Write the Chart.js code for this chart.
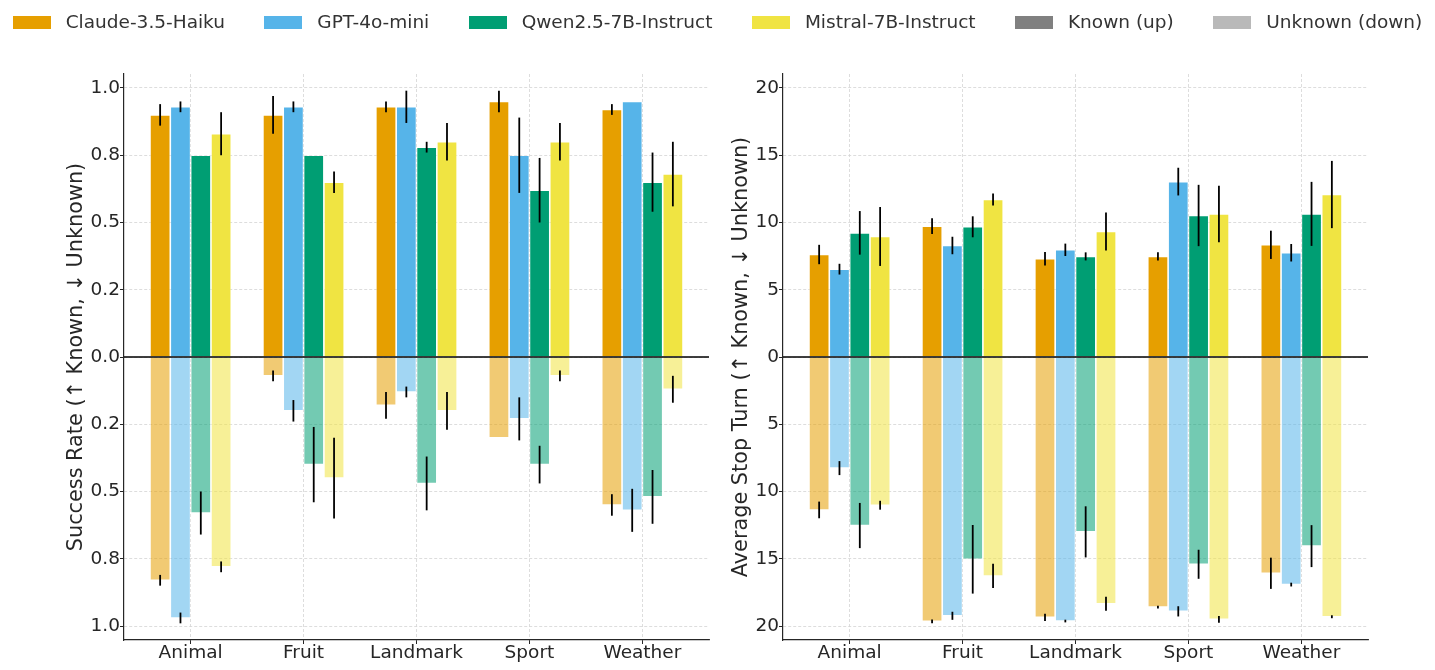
<!DOCTYPE html>
<html><head><meta charset="utf-8">
<script src="https://cdn.jsdelivr.net/npm/chart.js@4.4.1/dist/chart.umd.min.js"></script>
<style>
html,body{margin:0;padding:0;background:#fff;width:1435px;height:670px;overflow:hidden;font-family:"DejaVu Sans",sans-serif;}
#c1{position:absolute;left:0;top:0;}
#c2{position:absolute;left:717px;top:0;}
#legend{position:absolute;top:0;left:0;width:1435px;height:45px;display:flex;justify-content:center;align-items:center;z-index:2;}
.item{display:flex;align-items:center;margin:0 19.7px;}
.box{width:38px;height:13px;margin-right:15px;}
.lbl{font-size:18.5px;color:#333;white-space:nowrap;line-height:1;}
</style>
</head><body>
<canvas id="c1" width="717" height="670"></canvas>
<canvas id="c2" width="718" height="670"></canvas>
<div id="legend"></div>
<script>
// ---- data ----
const categories = ['Animal','Fruit','Landmark','Sport','Weather'];
const models = ['Claude-3.5-Haiku','GPT-4o-mini','Qwen2.5-7B-Instruct','Mistral-7B-Instruct'];
const modelColors = ['230,159,0','86,180,233','0,158,115','240,228,66'];

// Success rate, known (up)
const successKnownClaude  = [0.90, 0.90, 0.93, 0.95, 0.92];
const successKnownGPT     = [0.93, 0.93, 0.93, 0.75, 0.95];
const successKnownQwen    = [0.75, 0.75, 0.78, 0.62, 0.65];
const successKnownMistral = [0.83, 0.65, 0.80, 0.80, 0.68];
const successKnownErrClaude  = [0.04, 0.07, 0.02, 0.04, 0.02];
const successKnownErrGPT     = [0.02, 0.02, 0.06, 0.14, 0.00];
const successKnownErrQwen    = [0.00, 0.00, 0.02, 0.12, 0.11];
const successKnownErrMistral = [0.08, 0.04, 0.07, 0.07, 0.12];
// Success rate, unknown (down)
const successUnknownClaude  = [0.83, 0.07, 0.18, 0.30, 0.55];
const successUnknownGPT     = [0.97, 0.20, 0.13, 0.23, 0.57];
const successUnknownQwen    = [0.58, 0.40, 0.47, 0.40, 0.52];
const successUnknownMistral = [0.78, 0.45, 0.20, 0.07, 0.12];
const successUnknownErrClaude  = [0.02, 0.02, 0.05, 0.00, 0.04];
const successUnknownErrGPT     = [0.02, 0.04, 0.02, 0.08, 0.08];
const successUnknownErrQwen    = [0.08, 0.14, 0.10, 0.07, 0.10];
const successUnknownErrMistral = [0.02, 0.15, 0.07, 0.02, 0.05];

// Average stop turn, known (up)
const turnKnownClaude  = [7.62, 9.73, 7.30, 7.48, 8.34];
const turnKnownGPT     = [6.53, 8.29, 7.97, 13.04, 7.75];
const turnKnownQwen    = [9.23, 9.68, 7.48, 10.52, 10.64];
const turnKnownMistral = [8.96, 11.71, 9.33, 10.64, 12.08];
const turnKnownErrClaude  = [0.72, 0.58, 0.50, 0.30, 1.05];
const turnKnownErrGPT     = [0.40, 0.65, 0.46, 1.03, 0.65];
const turnKnownErrQwen    = [1.62, 0.78, 0.30, 2.28, 2.38];
const turnKnownErrMistral = [2.19, 0.45, 1.42, 2.10, 2.50];
// Average stop turn, unknown (down)
const turnUnknownClaude  = [11.37, 19.65, 19.36, 18.59, 16.08];
const turnUnknownGPT     = [8.26, 19.24, 19.63, 18.91, 16.92];
const turnUnknownQwen    = [12.53, 15.04, 13.00, 15.41, 14.06];
const turnUnknownMistral = [11.02, 16.28, 18.35, 19.51, 19.31];
const turnUnknownErrClaude  = [0.62, 0.14, 0.27, 0.10, 1.16];
const turnUnknownErrGPT     = [0.52, 0.30, 0.10, 0.38, 0.14];
const turnUnknownErrQwen    = [1.68, 2.55, 1.90, 1.08, 1.56];
const turnUnknownErrMistral = [0.33, 0.90, 0.52, 0.25, 0.11];

// Tick values / labels
const successTickValues = [1, 0.75, 0.5, 0.25, 0, -0.25, -0.5, -0.75, -1];
const successTickLabels = ['1.0','0.8','0.5','0.2','0.0','0.2','0.5','0.8','1.0'];
const turnTickValues = [20, 15, 10, 5, 0, -5, -10, -15, -20];
const turnTickLabels = ['20','15','10','5','0','5','10','15','20'];
const legendExtra = [['Known (up)','128,128,128',1],['Unknown (down)','128,128,128',0.55]];

// ---- chart building ----
Chart.defaults.font.family = '"DejaVu Sans", sans-serif';
Chart.defaults.color = '#262626';
const UNKNOWN_ALPHA = 0.55;
const TEXT = '#262626';

function buildDatasets(known, knownErr, unknown, unknownErr){
  const ds = [];
  models.forEach((m, k) => {
    ds.push({label: m + ' known', stack: 's'+k,
      data: known[k].map((v,i)=>({x:i, y:v})), errors: knownErr[k],
      backgroundColor: 'rgba('+modelColors[k]+',1)',
      borderColor: 'rgba(255,255,255,0.55)', borderWidth: 0.8, borderSkipped: 'start'});
    ds.push({label: m + ' unknown', stack: 's'+k,
      data: unknown[k].map((v,i)=>({x:i, y:-v})), errors: unknownErr[k],
      backgroundColor: 'rgba('+modelColors[k]+','+UNKNOWN_ALPHA+')',
      borderColor: 'rgba(255,255,255,0.55)', borderWidth: 0.8, borderSkipped: 'start'});
  });
  return ds;
}

const errorBarPlugin = {
  id: 'errbars',
  afterDatasetsDraw(chart){
    const ctx = chart.ctx, y = chart.scales.y, area = chart.chartArea;
    const y0 = y.getPixelForValue(0);
    ctx.save();
    ctx.strokeStyle = '#000'; ctx.lineWidth = 1.6;
    ctx.beginPath(); ctx.moveTo(area.left, y0); ctx.lineTo(area.right, y0); ctx.stroke();
    ctx.lineWidth = 1.8; ctx.strokeStyle = '#000';
    chart.data.datasets.forEach((d, di) => {
      const meta = chart.getDatasetMeta(di);
      meta.data.forEach((el, j) => {
        const e = d.errors[j];
        if (!e) return;
        const v = d.data[j].y;
        const a = y.getPixelForValue(v - e), b = y.getPixelForValue(v + e);
        ctx.beginPath(); ctx.moveTo(el.x, a); ctx.lineTo(el.x, b); ctx.stroke();
      });
    });
    ctx.restore();
  }
};

const bgPlugin = {
  id: 'bg',
  beforeDraw(chart){ const c = chart.ctx; c.save(); c.fillStyle = '#fff'; c.fillRect(0,0,chart.width,chart.height); c.restore(); }
};

function makeChart(id, datasets, tickVals, tickLabels, yMax, title, padLeft, yWidth, padRight){
  const gridCommon = {color:'#d4d4d4', lineWidth:0.8, drawTicks:true, tickLength:4, tickColor:TEXT, tickWidth:1, tickBorderDash:[], offset:false};
  const borderCommon = {display:true, color:TEXT, width:1.2, dash:[3,2]};
  return new Chart(document.getElementById(id), {
    type: 'bar',
    data: {datasets},
    options: {
      responsive:false, animation:false, devicePixelRatio:1,
      layout:{padding:{top:74, left:padLeft, right:padRight, bottom:0}},
      plugins:{legend:{display:false}, tooltip:{enabled:false}},
      datasets:{bar:{categoryPercentage:0.72, barPercentage:1.0}},
      scales:{
        x:{type:'linear', min:-0.59, max:4.59, stacked:true, offset:false,
          afterBuildTicks: s => { s.ticks = categories.map((c,i)=>({value:i})); },
          ticks:{callback:(v,i)=>categories[i], font:{size:18.5}, color:TEXT, padding:-2, maxRotation:0, autoSkip:false},
          grid: gridCommon, border: borderCommon,
          afterFit: s => { s.height = 30; }
        },
        y:{min:-yMax, max:yMax, stacked:true,
          afterBuildTicks: s => { s.ticks = tickVals.map(v=>({value:v})); },
          ticks:{callback:(v,i)=>tickLabels[i], font:{size:18.5}, color:TEXT, padding:0, autoSkip:false},
          title:{display:true, text:title, font:{size:20.8}, color:TEXT, padding:0},
          grid: gridCommon, border: borderCommon,
          afterFit: s => { s.width = yWidth; }
        }
      }
    },
    plugins:[bgPlugin, errorBarPlugin]
  });
}

makeChart('c1',
  buildDatasets(
    [successKnownClaude, successKnownGPT, successKnownQwen, successKnownMistral],
    [successKnownErrClaude, successKnownErrGPT, successKnownErrQwen, successKnownErrMistral],
    [successUnknownClaude, successUnknownGPT, successUnknownQwen, successUnknownMistral],
    [successUnknownErrClaude, successUnknownErrGPT, successUnknownErrQwen, successUnknownErrMistral]),
  successTickValues, successTickLabels, 1.052, 'Success Rate (↑ Known, ↓ Unknown)', 64, 60, 8);

makeChart('c2',
  buildDatasets(
    [turnKnownClaude, turnKnownGPT, turnKnownQwen, turnKnownMistral],
    [turnKnownErrClaude, turnKnownErrGPT, turnKnownErrQwen, turnKnownErrMistral],
    [turnUnknownClaude, turnUnknownGPT, turnUnknownQwen, turnUnknownMistral],
    [turnUnknownErrClaude, turnUnknownErrGPT, turnUnknownErrQwen, turnUnknownErrMistral]),
  turnTickValues, turnTickLabels, 21.04, 'Average Stop Turn (↑ Known, ↓ Unknown)', 12, 54, 67);

// ---- legend ----
const legend = document.getElementById('legend');
const legendItems = models.map((m,k)=>[m, modelColors[k], 1]).concat(legendExtra);
legendItems.forEach(([name, rgb, a]) => {
  const it = document.createElement('div'); it.className = 'item';
  const b = document.createElement('div'); b.className = 'box'; b.style.background = 'rgba('+rgb+','+a+')';
  const t = document.createElement('span'); t.className = 'lbl'; t.textContent = name;
  it.appendChild(b); it.appendChild(t); legend.appendChild(it);
});
</script>
</body></html>
